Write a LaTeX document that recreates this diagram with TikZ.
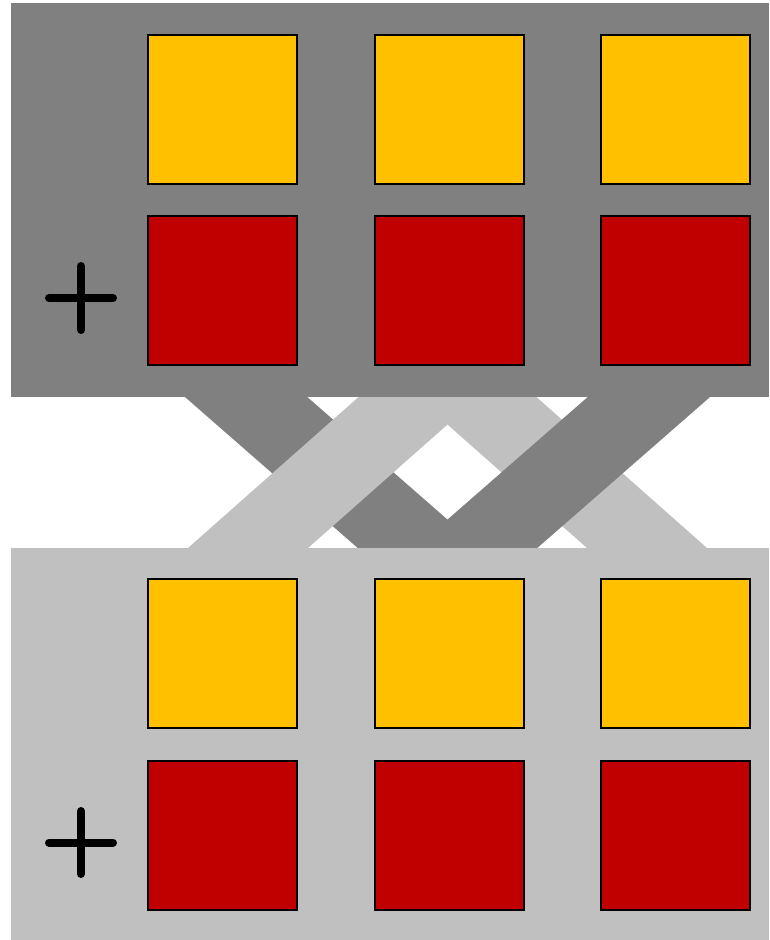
\documentclass[tikz,border=0pt]{standalone}
\definecolor{darkband}{HTML}{808080}
\definecolor{lightband}{HTML}{C0C0C0}
\definecolor{gold}{HTML}{FFC000}
\definecolor{crimson}{HTML}{C00000}
\tikzset{
  sq/.style={draw=black, line width=2pt, minimum size=149pt, inner sep=0pt, outer sep=0pt},
  ysq/.style={sq, fill=gold},
  rsq/.style={sq, fill=crimson},
  plusline/.style={line width=8pt, line cap=round, draw=black}
}
\begin{document}
\begin{tikzpicture}[x=1pt,y=-1pt]
\useasboundingbox (0,0) rectangle (769,940);
% bands
\fill[darkband] (178.1,391) -- (300.4,391) -- (486.9,554) -- (364.6,554) -- cycle;
\fill[lightband] (181.2,554) -- (301.2,554) -- (485.4,391) -- (365.4,391) -- cycle;
\fill[lightband] (713.8,554) -- (593.8,554) -- (409.6,391) -- (529.6,391) -- cycle;
\fill[darkband] (716.9,391) -- (594.6,391) -- (408.1,554) -- (530.4,554) -- cycle;
% panels
\fill[darkband] (11,3) rectangle (769,397);
\fill[lightband] (11,548) rectangle (769,940);
% squares
\node[ysq] (y1) at (222.5,109.5) {};
\node[ysq] (y2) at (449.5,109.5) {};
\node[ysq] (y3) at (675.5,109.5) {};
\node[rsq] (r1) at (222.5,290.5) {};
\node[rsq] (r2) at (449.5,290.5) {};
\node[rsq] (r3) at (675.5,290.5) {};
\node[ysq] (y4) at (222.5,653.5) {};
\node[ysq] (y5) at (449.5,653.5) {};
\node[ysq] (y6) at (675.5,653.5) {};
\node[rsq] (r4) at (222.5,835.5) {};
\node[rsq] (r5) at (449.5,835.5) {};
\node[rsq] (r6) at (675.5,835.5) {};
% plus signs
\draw[plusline] (49,298) -- (113,298);
\draw[plusline] (81,266) -- (81,330);
\draw[plusline] (49,842.5) -- (113,842.5);
\draw[plusline] (81,811) -- (81,874);
\end{tikzpicture}
\end{document}
